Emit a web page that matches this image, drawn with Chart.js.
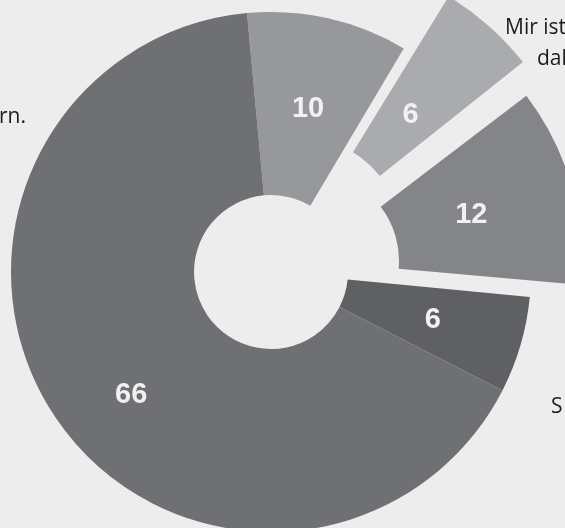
<!DOCTYPE html>
<html>
<head>
<meta charset="utf-8">
<script src="https://cdn.jsdelivr.net/npm/chart.js@4"></script>
<style>
  html, body { margin: 0; padding: 0; }
  body { width: 565px; height: 528px; overflow: hidden; background: #ededed; position: relative; }
  #myChart { position: absolute; left: 0; top: 0; }
</style>
</head>
<body>
<canvas id="myChart" width="565" height="544"></canvas>
<script>
// values clockwise from the top
const values = [10, 6, 12, 6, 66]
const categories = ["", "Mir ist\ndal", "", "S", "rn."]
const colors = ["#97989c", "#aaabae", "#848589", "#5f6064", "#6f7074"]
const explode = [0, 168, 160, 0, 0]   // arc offset (chart.js divides by 4)

// cropped outside labels: [text lines, x, baseline y]
const outsideText = [
  [["Mir ist"], 505, 34],
  [["dal"], 537, 65],
  [["S"], 551, 413],
  [["rn."], -1, 123],
]
// nudge for the inside number labels [deg, px]
const labelNudge = [[0, 0], [0, 0], [0, 0], [0, 0], [-7, 17]]

const valueLabels = {
  id: "valueLabels",
  afterDatasetsDraw(chart) {
    const ctx = chart.ctx
    const meta = chart.getDatasetMeta(0)
    ctx.save()
    ctx.font = "bold 29px 'Liberation Sans', Arial, sans-serif"
    ctx.fillStyle = "#f1f1f1"
    ctx.textAlign = "center"
    ctx.textBaseline = "middle"
    meta.data.forEach((arc, i) => {
      const p = arc.getProps(["x", "y", "startAngle", "endAngle", "innerRadius", "outerRadius"], true)
      const mid = (p.startAngle + p.endAngle) / 2
      const shift = (arc.options.offset || 0) / 4
      const a = mid + labelNudge[i][0] * Math.PI / 180
      const r = (p.innerRadius + p.outerRadius) / 2 + labelNudge[i][1]
      const x = p.x + Math.cos(mid) * shift + Math.cos(a) * r
      const y = p.y + Math.sin(mid) * shift + Math.sin(a) * r
      ctx.fillText(values[i], x, y + 1)
    })
    ctx.font = "21px 'Open Sans', sans-serif"
    ctx.fillStyle = "#1c1c1c"
    ctx.textAlign = "left"
    ctx.textBaseline = "alphabetic"
    outsideText.forEach(([lines, x, y]) => {
      lines.forEach((t, k) => ctx.fillText(t, x, y + k * 31))
    })
    ctx.restore()
  },
}

const config = {
  type: "doughnut",
  data: {
    labels: categories,
    datasets: [
      {
        data: values,
        backgroundColor: colors,
        borderWidth: 0,
        offset: explode,
        clip: false,
      },
    ],
  },
  options: {
    responsive: false,
    animation: false,
    rotation: -5.3,
    radius: 260,
    cutout: "29.6%",
    layout: { padding: { left: 0, right: 23, top: 0, bottom: 0 } },
    plugins: {
      legend: { display: false },
      tooltip: { enabled: false },
    },
  },
  plugins: [valueLabels],
}

new Chart(document.getElementById("myChart"), config)
</script>
</body>
</html>
